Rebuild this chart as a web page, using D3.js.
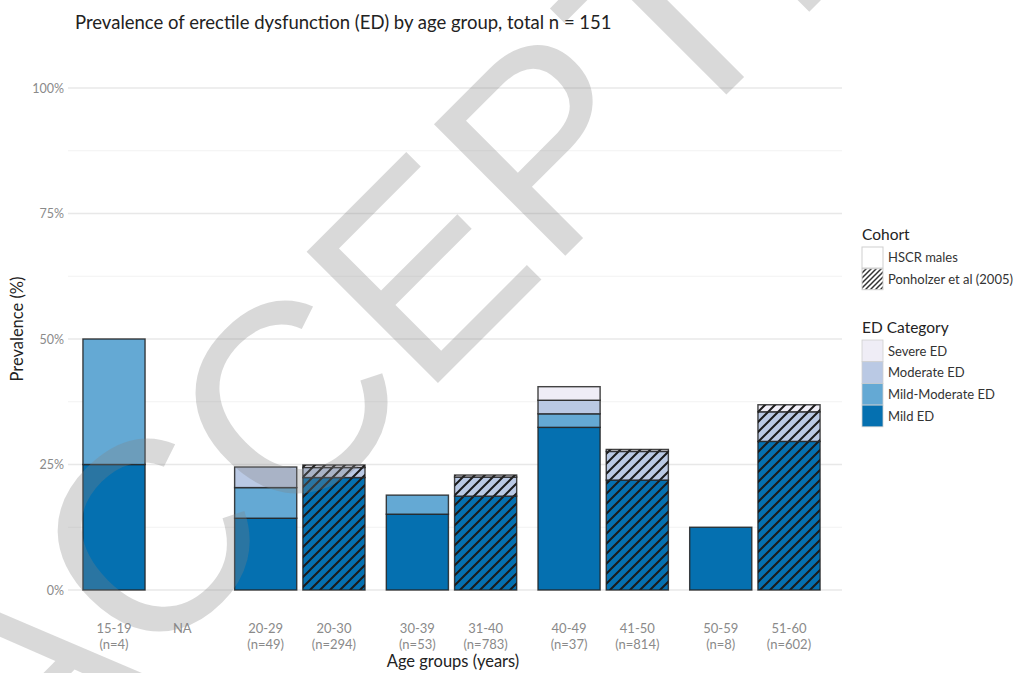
<!DOCTYPE html>
<html><head><meta charset="utf-8">
<script src="https://cdn.jsdelivr.net/npm/d3@7"></script>
<style>body{margin:0;background:#fff}</style>
</head><body>
<svg id="chart" width="1030" height="673"></svg>
<script>
// ---------- data ----------
const groups = ["g1","g2","g3","g4","g5"];
const hscrAges = ["15-19","20-29","30-39","40-49","50-59"];
const hscrN = [4,49,53,37,8];
const ponAges = ["NA","20-30","31-40","41-50","51-60"];
const ponN = [null,294,783,814,602];
const categories = ["Mild ED","Mild-Moderate ED","Moderate ED","Severe ED"];
const hscrMild = [25,14.3,15.1,32.4,12.5];
const hscrMildModerate = [25,6.1,3.8,2.7,0];
const hscrModerate = [0,4.1,0,2.7,0];
const hscrSevere = [0,0,0,2.7,0];
const ponMild = [0,22.4,18.7,21.9,29.6];
const ponMildModerate = [0,0,0,0,0];
const ponModerate = [0,2.0,3.8,5.7,5.9];
const ponSevere = [0,0.5,0.4,0.4,1.4];
const yTicks = [0,25,50,75,100];
const yMinor = [12.5,37.5,62.5,87.5];
const cohorts = ["HSCR males","Ponholzer et al (2005)"];
const colors = ["#0570b0","#64a9d4","#bac9e4","#efedf6"];

// ---------- build rows ----------
const rows = [];
groups.forEach((g,i)=>{
  rows.push({group:g, cohort:cohorts[0], age:hscrAges[i], n:hscrN[i],
    "Mild ED":hscrMild[i],"Mild-Moderate ED":hscrMildModerate[i],
    "Moderate ED":hscrModerate[i],"Severe ED":hscrSevere[i]});
  rows.push({group:g, cohort:cohorts[1], age:ponAges[i], n:ponN[i],
    "Mild ED":ponMild[i],"Mild-Moderate ED":ponMildModerate[i],
    "Moderate ED":ponModerate[i],"Severe ED":ponSevere[i]});
});

const svg = d3.select("#chart");
const font = "Lato, 'Open Sans', sans-serif";

const x = d3.scaleBand().domain(groups).range([65,838]).paddingInner(0.1).paddingOuter(0.098);
const xi = d3.scaleBand().domain(cohorts).range([0,x.bandwidth()]).paddingInner(0.09).paddingOuter(0.045);
const y = d3.scaleLinear().domain([0,100]).range([590,88]);
const color = d3.scaleOrdinal().domain(categories).range(colors);

const defs = svg.append("defs");
const pat = defs.append("pattern").attr("id","hatch").attr("patternUnits","userSpaceOnUse")
  .attr("width",10).attr("height",10);
pat.append("path").attr("d","M-2.5,2.5 l5,-5 M0,10 l10,-10 M7.5,12.5 l5,-5")
  .attr("stroke","#1a1a1a").attr("stroke-width",2);
const pat2 = defs.append("pattern").attr("id","hatchKey").attr("patternUnits","userSpaceOnUse")
  .attr("width",5).attr("height",5);
pat2.append("path").attr("d","M-1.25,1.25 l2.5,-2.5 M0,5 l5,-5 M3.75,6.25 l2.5,-2.5")
  .attr("stroke","#333").attr("stroke-width",1.5);

// ---------- grid ----------
const grid = svg.append("g");
grid.selectAll(".minor").data(yMinor).join("line")
  .attr("x1",68).attr("x2",842).attr("y1",d=>y(d)).attr("y2",d=>y(d))
  .attr("stroke","#f2f2f2").attr("stroke-width",1);
grid.selectAll(".major").data(yTicks).join("line")
  .attr("x1",68).attr("x2",842).attr("y1",d=>y(d)).attr("y2",d=>y(d))
  .attr("stroke","#e8e8e8").attr("stroke-width",1.4);

// y axis labels
const yAxis = svg.append("g").attr("transform","translate(64,0)")
  .call(d3.axisLeft(y).tickValues(yTicks).tickFormat(d=>d+"%").tickSize(0).tickPadding(0));
yAxis.select(".domain").remove();
yAxis.selectAll("text").attr("font-family",font).attr("font-size",12.5).attr("fill","#8a8a8a");

// ---------- bars ----------
const series = d3.stack().keys(categories)(rows);
const bars = svg.append("g");
series.forEach(s=>{
  s.forEach(d=>{
    if (d[1]-d[0] <= 0) return;
    const r = d.data;
    const bx = x(r.group)+xi(r.cohort), bw = xi.bandwidth();
    bars.append("rect").attr("x",bx).attr("width",bw)
      .attr("y",y(d[1])).attr("height",y(d[0])-y(d[1]))
      .attr("fill",color(s.key));
    if (r.cohort===cohorts[1]) {
      bars.append("rect").attr("x",bx).attr("width",bw)
        .attr("y",y(d[1])).attr("height",y(d[0])-y(d[1]))
        .attr("fill","url(#hatch)");
    }
    bars.append("rect").attr("x",bx).attr("width",bw)
      .attr("y",y(d[1])).attr("height",y(d[0])-y(d[1]))
      .attr("fill","none").attr("stroke","#222").attr("stroke-opacity",0.85).attr("stroke-width",1.4);
  });
});

// ---------- x labels ----------
const xl = svg.append("g");
rows.forEach(r=>{
  const cx = x(r.group)+xi(r.cohort)+xi.bandwidth()/2;
  const t = xl.append("text").attr("x",cx).attr("y",633).attr("text-anchor","middle")
    .attr("font-family",font).attr("font-size",13).attr("fill","#8a8a8a");
  t.append("tspan").attr("x",cx).text(r.age);
  if (r.n!==null) t.append("tspan").attr("x",cx).attr("dy",15.5).text("(n="+r.n+")");
});

// titles
svg.append("text").attr("x",75).attr("y",29).attr("font-family",font).attr("font-size",18.5)
  .attr("fill","#222").text("Prevalence of erectile dysfunction (ED) by age group, total n = 151");
svg.append("text").attr("x",453).attr("y",667).attr("text-anchor","middle").attr("font-family",font)
  .attr("font-size",16.5).attr("fill","#222").text("Age groups (years)");
svg.append("text").attr("transform","translate(23,329) rotate(-90)").attr("text-anchor","middle")
  .attr("font-family",font).attr("font-size",16.5).attr("fill","#222").text("Prevalence (%)");

// ---------- legend ----------
const lg = svg.append("g").attr("font-family",font);
lg.append("text").attr("x",862).attr("y",240).attr("font-size",15.5).attr("fill","#222").text("Cohort");
cohorts.forEach((c,i)=>{
  const yy = 247 + i*21.7;
  lg.append("rect").attr("x",862).attr("y",yy).attr("width",21).attr("height",21)
    .attr("fill", i===0 ? "#fff" : "url(#hatchKey)").attr("stroke","#cfcfcf").attr("stroke-width",1);
  lg.append("text").attr("x",888).attr("y",yy+15).attr("font-size",13).attr("fill","#333").text(c);
});
lg.append("text").attr("x",862).attr("y",333).attr("font-size",15.5).attr("fill","#222").text("ED Category");
categories.slice().reverse().forEach((c,i)=>{
  const yy = 340 + i*21.7;
  lg.append("rect").attr("x",862).attr("y",yy).attr("width",21).attr("height",21.7)
    .attr("fill",color(c)).attr("stroke","#cfcfcf").attr("stroke-width",0.8);
  lg.append("text").attr("x",888).attr("y",yy+15.5).attr("font-size",13).attr("fill","#333").text(c);
});

// ---------- watermark ----------
svg.append("text").attr("transform","translate(539,282) rotate(-45)").attr("text-anchor","middle")
  .attr("font-family","'Liberation Sans', Arial, sans-serif").attr("font-size",270)
  .attr("fill","#808080").attr("fill-opacity",0.3).text("ACCEPTED");
</script>
</body></html>
